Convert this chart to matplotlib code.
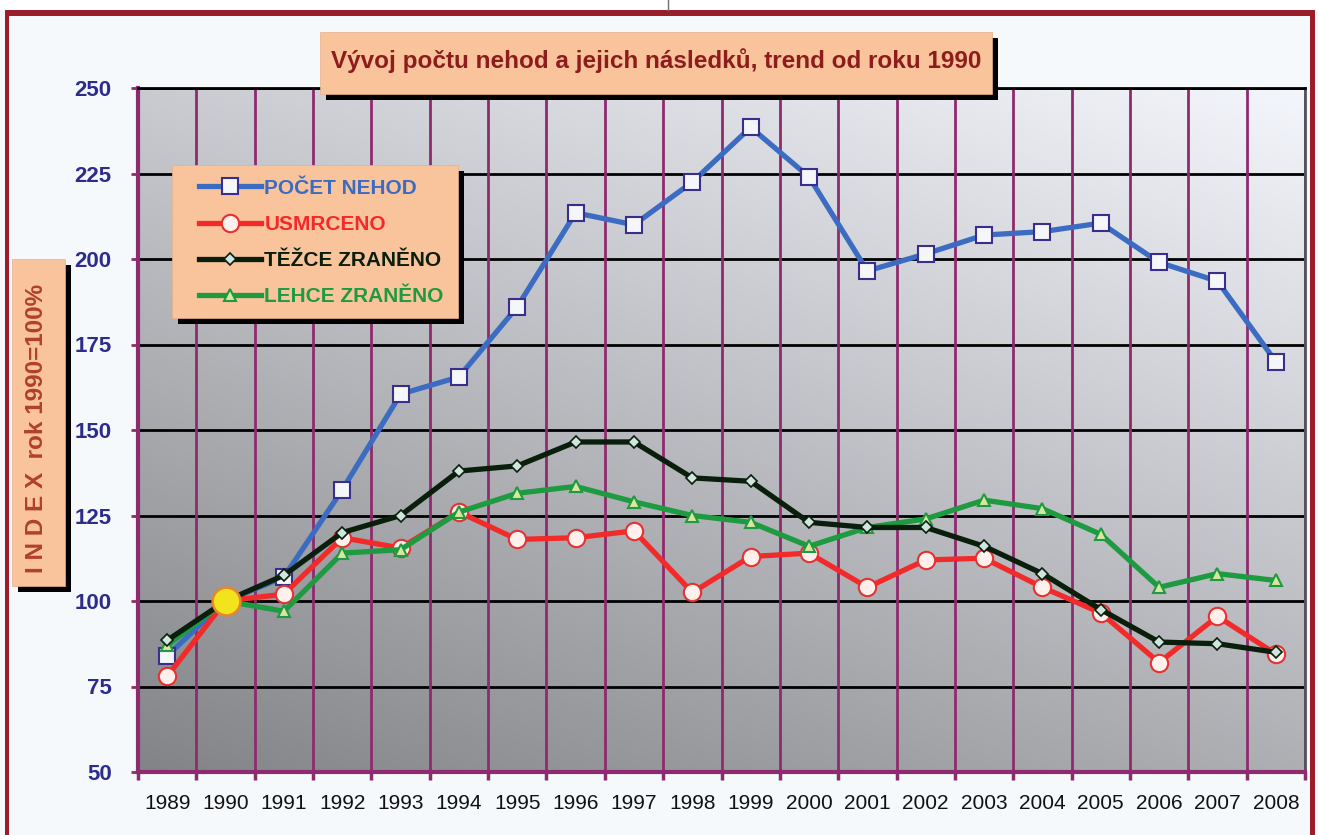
import numpy as np
import matplotlib
matplotlib.use('Agg')
import matplotlib.pyplot as plt
from matplotlib.patches import Rectangle
from matplotlib.lines import Line2D

years = ['1989', '1990', '1991', '1992', '1993', '1994', '1995', '1996', '1997', '1998',
         '1999', '2000', '2001', '2002', '2003', '2004', '2005', '2006', '2007', '2008']
pocet_nehod = [84, 100, 107, 132.5, 160.5, 165.5, 186, 213.5, 210, 222.5,
               238.5, 224, 196.5, 201.5, 207, 208, 210.5, 199, 193.5, 170]
usmrceno = [78, 100, 102, 118.5, 115.5, 126, 118, 118.5, 120.5, 102.5,
            113, 114, 104, 112, 112.5, 104, 96.5, 82, 95.5, 84.5]
tezce_zraneno = [88.5, 100, 107.5, 120, 125, 138, 139.5, 146.5, 146.5, 136,
                 135, 123, 121.5, 121.5, 116, 108, 97.5, 88, 87.5, 85]
lehce_zraneno = [87, 100, 97, 114, 115, 126, 131.5, 133.5, 129, 125,
                 123, 116, 121.5, 124, 129.5, 127, 119.5, 104, 108, 106]
y_ticks = [50, 75, 100, 125, 150, 175, 200, 225, 250]

NARROW = ['Liberation Sans Narrow', 'Liberation Sans', 'DejaVu Sans']
PEACH = '#F9C49C'
PURPLE = '#8E2A6E'

W, H = 1318, 835
fig = plt.figure(figsize=(W / 100, H / 100), dpi=100, facecolor='#F6F9FC')

def px(x0, y0, x1, y1):
    # pixel box (top-left origin) -> figure fraction rect
    return (x0 / W, 1 - y1 / H, (x1 - x0) / W, (y1 - y0) / H)

def shadow_box(x0, y0, x1, y1, off=6):
    fig.patches.append(Rectangle(px(x0 + off, y0 + off, x1 + off, y1 + off)[:2],
                                 (x1 - x0) / W, (y1 - y0) / H, transform=fig.transFigure,
                                 facecolor='black', edgecolor='none', zorder=5))
    fig.patches.append(Rectangle(px(x0, y0, x1, y1)[:2], (x1 - x0) / W, (y1 - y0) / H,
                                 transform=fig.transFigure, facecolor=PEACH,
                                 edgecolor='#E8B088', lw=0.5, zorder=6))

# white strip on top and dark red frame
fig.patches.append(Rectangle((0, 1 - 10 / H), 1, 10 / H, transform=fig.transFigure,
                             facecolor='white', edgecolor='none', zorder=0))
fig.lines.append(Line2D([668 / W, 668 / W], [1, 1 - 10 / H], transform=fig.transFigure,
                        color='#707070', lw=1))
fig.patches.append(Rectangle((5 / W, 1 - 16 / H), (1313 - 5) / W, 6 / H, transform=fig.transFigure,
                             facecolor='#9B1D2C', edgecolor='none', zorder=1))
fig.patches.append(Rectangle((5 / W, 0), 4 / W, 1 - 10 / H, transform=fig.transFigure,
                             facecolor='#9B1D2C', edgecolor='none', zorder=1))
fig.patches.append(Rectangle((1310 / W, 0), 5 / W, 1 - 10 / H, transform=fig.transFigure,
                             facecolor='#9B1D2C', edgecolor='none', zorder=1))

ax = fig.add_axes(px(138, 88, 1305, 772))
x = np.arange(len(years))

# gradient background of plot area
gx, gy = np.meshgrid(np.linspace(0, 1, 300), np.linspace(0, 1, 200))
v = 0.52 + 0.28 * gy + 0.17 * gx
grad = np.dstack([v * 0.985, v * 0.995, np.clip(v * 1.02, 0, 1)])
ax.imshow(grad, extent=(-0.5, 19.5, 50, 250), origin='lower', aspect='auto', zorder=0)

ax.set_xlim(-0.5, 19.5)
ax.set_ylim(50, 250)

for yv in y_ticks[1:]:
    ax.axhline(yv, color='black', lw=2, zorder=1)
for xe in np.arange(-0.5, 20, 1):
    ax.axvline(xe, color=PURPLE, lw=2, zorder=1)

ax.plot(x, pocet_nehod, color='#3B6CC2', lw=3.8, marker='s', ms=11, mfc='#F4F6FA',
        mec='#3A2E8C', mew=1.5, zorder=3, label='POČET NEHOD')
ax.plot(x, usmrceno, color='#F22A2A', lw=3.8, marker='o', ms=12.5, mfc='#FFF0EC',
        mec='#E83030', mew=1.5, zorder=4, label='USMRCENO')
ax.plot(x, lehce_zraneno, color='#1E9A40', lw=3.8, marker='^', ms=9, mfc='#D8E6A0',
        mec='#1E9A40', mew=1.5, zorder=5, label='LEHCE ZRANĚNO')
ax.plot(x, tezce_zraneno, color='#0A1E0C', lw=3.8, marker='D', ms=6.5, mfc='#CFE6E0',
        mec='#0A1E0C', mew=1.2, zorder=6, label='TĚŽCE ZRANĚNO')
ax.plot(x[1], usmrceno[1], marker='o', ms=20, mfc='#F2E41C', mec='#E8862A', mew=1.8, zorder=7)

ax.set_xticks(x)
ax.set_xticklabels(years)
ax.set_xticks(np.arange(-0.5, 20, 1), minor=True)
ax.tick_params(axis='x', which='major', length=0, pad=16, labelsize=15, labelcolor='#111111')
ax.tick_params(axis='x', which='minor', length=6, width=2.5, color=PURPLE, direction='out')
for lbl in ax.get_xticklabels():
    lbl.set_family(['Liberation Sans', 'DejaVu Sans'])

ax.set_yticks(y_ticks)
ax.set_yticklabels([str(t) for t in y_ticks])
ax.tick_params(axis='y', length=5, width=2, color=PURPLE, pad=14, labelsize=16, labelcolor='#2C2C8C')
for lbl in ax.get_yticklabels():
    lbl.set_family(NARROW)
    lbl.set_fontweight('bold')

for side in ['left', 'bottom']:
    ax.spines[side].set_color(PURPLE)
    ax.spines[side].set_linewidth(3)
ax.spines['top'].set_color('black')
ax.spines['top'].set_linewidth(2)
ax.spines['right'].set_color('#555555')
ax.spines['right'].set_linewidth(2)

# title box
shadow_box(320, 32, 992, 94)
fig.text((320 + 992) / 2 / W, 1 - 61 / H, 'Vývoj počtu nehod a jejich následků, trend od roku 1990',
         ha='center', va='center', fontsize=17.5, fontweight='bold', color='#8E1C1C',
         family=NARROW, zorder=7)

# y label box
shadow_box(12, 259, 65, 586)
fig.text(37 / W, 1 - 428 / H, 'I N D E X  rok 1990=100%', rotation=90, ha='center', va='center',
         fontsize=17.5, fontweight='bold', color='#B0402A', family=NARROW, zorder=7)

# legend box
shadow_box(172, 165, 458, 318)
handles, labels = ax.get_legend_handles_labels()
order = [0, 1, 3, 2]
leg = fig.legend([handles[i] for i in order], [labels[i] for i in order],
                 loc='upper left', bbox_to_anchor=(180 / W, 1 - 160 / H),
                 frameon=False, handlelength=3.0, handletextpad=0.15, labelspacing=0.82,
                 prop={'family': NARROW, 'weight': 'bold', 'size': 15}, labelcolor='linecolor')
leg.set_zorder(8)

fig.savefig('out.png', dpi=100, facecolor=fig.get_facecolor())
